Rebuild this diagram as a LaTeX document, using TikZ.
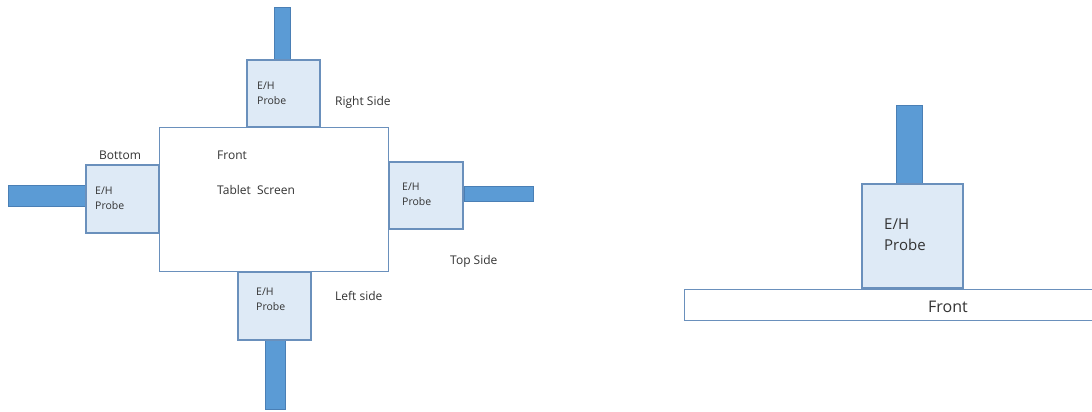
\documentclass[tikz,border=0pt]{standalone}
\usepackage{fontspec}
\setmainfont{Open Sans}
\definecolor{stickblue}{HTML}{5B9BD5}
\definecolor{stickedge}{HTML}{4A7FB5}
\definecolor{probefill}{HTML}{DEEAF6}
\definecolor{probeedge}{HTML}{6A90BC}
\definecolor{labelgrey}{HTML}{333333}
\begin{document}
\begin{tikzpicture}[x=1pt,y=-1pt,
    every node/.append style={inner sep=0pt,text=labelgrey},
    probe/.style={draw=probeedge,line width=1.2pt,fill=probefill},
    stick/.style={draw=stickedge,line width=0.8pt,fill=stickblue},
    board/.style={draw=probeedge,line width=1pt,fill=white},
    tag/.style={font=\fontsize{12}{14}\selectfont,anchor=west},
    probetext/.style={font=\fontsize{10.5}{14.5}\selectfont,align=left,anchor=north west}]
    \useasboundingbox (0,0) rectangle (1092,412);

    % tablet seen from the front
    \node[board,minimum width=229pt,minimum height=144pt] (tablet) at (273.5,199) {};

    \node[stick,minimum width=16pt,minimum height=53pt] (topstick) at (282,33.5) {};
    \node[probe,minimum width=73pt,minimum height=67pt] (topprobe) at (283.5,93.5) {};
    \node[probetext] (toptext) at (257,82) {E/H\\Probe};

    \node[stick,minimum width=78pt,minimum height=21pt] (leftstick) at (47,195.5) {};
    \node[probe,minimum width=73pt,minimum height=68pt] (leftprobe) at (122.5,199) {};
    \node[probetext] (lefttext) at (95,187) {E/H\\Probe};

    \node[stick,minimum width=69pt,minimum height=15pt] (rightstick) at (498.5,193.5) {};
    \node[probe,minimum width=74pt,minimum height=67pt] (rightprobe) at (426,195.5) {};
    \node[probetext] (righttext) at (402,183) {E/H\\Probe};

    \node[stick,minimum width=20pt,minimum height=69pt] (bottomstick) at (275,374.5) {};
    \node[probe,minimum width=73pt,minimum height=68pt] (bottomprobe) at (274.5,306) {};
    \node[probetext] (bottomtext) at (256,288) {E/H\\Probe};

    \node[tag] (rightside) at (335,102) {Right Side};
    \node[tag] (bottomside) at (99,155) {Bottom};
    \node[tag] (fronttext) at (217,155) {Front};
    \node[tag] (screentext) at (217,190) {Tablet\ \ Screen};
    \node[tag] (topside) at (450,261) {Top Side};
    \node[tag] (leftside) at (335,296) {Left side};

    % tablet seen from the side
    \node[board,minimum width=412pt,minimum height=31pt] (sideview) at (890,304.5) {};
    \node[font=\fontsize{16}{18}\selectfont] (sidefront) at (948,307) {Front};
    \node[stick,minimum width=26pt,minimum height=78pt] (sidestick) at (909,144) {};
    \node[probe,minimum width=101pt,minimum height=104pt] (sideprobe) at (912.5,236) {};
    \node[probetext,font=\fontsize{15}{21}\selectfont] (sidetext) at (884,219) {E/H\\Probe};
\end{tikzpicture}
\end{document}
